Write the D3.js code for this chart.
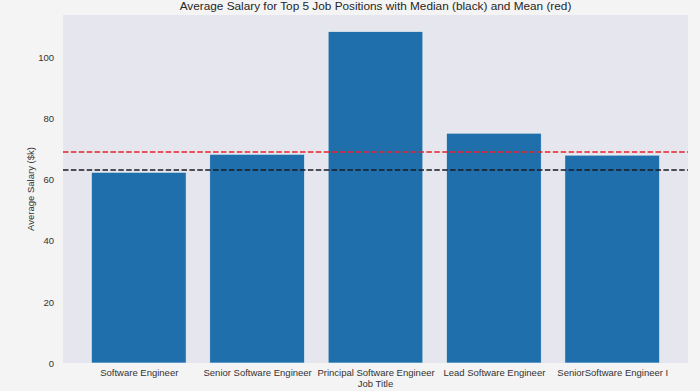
<!DOCTYPE html>
<html>
<head>
<meta charset="utf-8">
<script src="https://cdn.jsdelivr.net/npm/d3@7"></script>
<style>
  body { margin: 0; background: #f4f4f4; }
  svg { display: block; font-family: "Liberation Sans", Arial, sans-serif; }
  .axis text { fill: #333; font-size: 9.5px; }
  .axis path, .axis line { display: none; }
</style>
</head>
<body>
<div id="chart"></div>
<script>
// Chart data
var jobTitles = ["Software Engineer", "Senior Software Engineer", "Principal Software Engineer",
                 "Lead Software Engineer", "SeniorSoftware Engineer I"];
var avgSalary = [62.5, 68.4, 108.6, 75.3, 68.1];
var medianSalary = 63.2;
var meanSalary = 69.1;
var yTicks = [0, 20, 40, 60, 80, 100];

// Dimensions
var W = 700, H = 391;
var margin = {top: 15, right: 12, bottom: 28, left: 63},
    width = W - margin.left - margin.right,
    height = H - margin.top - margin.bottom;

var chart = d3.select("#chart").append("svg")
    .attr("width", W)
    .attr("height", H);

chart.append("rect")
    .attr("width", W)
    .attr("height", H)
    .attr("fill", "#f4f4f4");

var g = chart.append("g")
    .attr("transform", "translate(" + margin.left + "," + margin.top + ")");

// Scales (matplotlib-like: bar width 0.8, 5% margins)
var x = d3.scaleLinear()
    .domain([-0.64, jobTitles.length - 1 + 0.64])
    .range([0, width]);
var y = d3.scaleLinear()
    .domain([0, d3.max(avgSalary) * 1.05])
    .range([height, 0]);

g.append("rect")
    .attr("width", width)
    .attr("height", height)
    .attr("fill", "#e6e6ee");

// Bars
var barW = x(0.8) - x(0);
g.selectAll(".bar")
    .data(avgSalary)
  .enter().append("rect")
    .attr("class", "bar")
    .attr("x", function(d, i) { return x(i - 0.4); })
    .attr("y", function(d) { return y(d); })
    .attr("width", barW)
    .attr("height", function(d) { return height - y(d); })
    .attr("fill", "#1f6fad")
    .attr("stroke", "#f0f4f8")
    .attr("stroke-width", 0.6);

// Median / mean lines
g.append("line")
    .attr("x1", 0).attr("x2", width)
    .attr("y1", y(meanSalary)).attr("y2", y(meanSalary))
    .attr("stroke", "#e8232a")
    .attr("stroke-width", 1.5)
    .attr("stroke-dasharray", "5.5,2.4");

g.append("line")
    .attr("x1", 0).attr("x2", width)
    .attr("y1", y(medianSalary)).attr("y2", y(medianSalary))
    .attr("stroke", "#1a1a22")
    .attr("stroke-width", 1.5)
    .attr("stroke-dasharray", "5.5,2.4");

// Axes
var xAxis = d3.axisBottom(x)
    .tickValues(d3.range(jobTitles.length))
    .tickFormat(function(d) { return jobTitles[d]; })
    .tickSize(0)
    .tickPadding(6);
var yAxis = d3.axisLeft(y)
    .tickValues(yTicks)
    .tickSize(0)
    .tickPadding(9);

g.append("g")
    .attr("class", "axis axis--x")
    .attr("transform", "translate(0," + height + ")")
    .call(xAxis);

g.append("g")
    .attr("class", "axis axis--y")
    .call(yAxis);

// Labels
chart.append("text")
    .attr("x", margin.left + width / 2)
    .attr("y", 10)
    .attr("text-anchor", "middle")
    .attr("font-size", "11.8px")
    .attr("fill", "#262626")
    .text("Average Salary for Top 5 Job Positions with Median (black) and Mean (red)");

chart.append("text")
    .attr("x", margin.left + width / 2)
    .attr("y", 387)
    .attr("text-anchor", "middle")
    .attr("font-size", "9.5px")
    .attr("fill", "#333")
    .text("Job Title");

chart.append("text")
    .attr("transform", "translate(34," + (margin.top + height / 2) + ") rotate(-90)")
    .attr("text-anchor", "middle")
    .attr("font-size", "9.5px")
    .attr("fill", "#333")
    .text("Average Salary ($k)");
</script>
</body>
</html>
